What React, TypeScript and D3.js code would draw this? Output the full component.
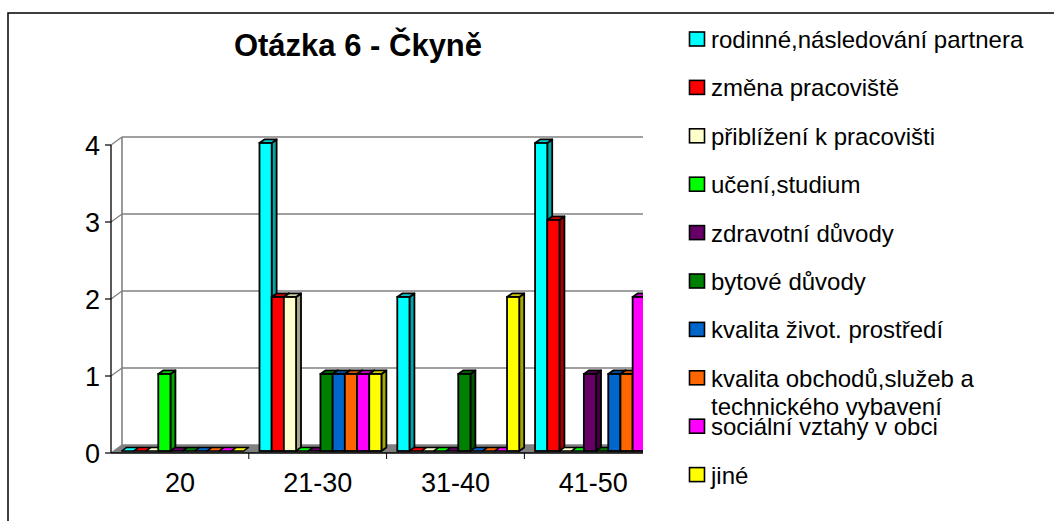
import React from "react";
import * as d3 from "d3";

const categories = ["20", "21-30", "31-40", "41-50"];
const seriesNames = [
  "rodinné,následování partnera",
  "změna pracoviště",
  "přiblížení k pracovišti",
  "učení,studium",
  "zdravotní důvody",
  "bytové důvody",
  "kvalita život. prostředí",
  "kvalita obchodů,služeb a technického vybavení",
  "sociální vztahy v obci",
  "jiné",
];
const legendLines = [
  ["rodinné,následování partnera"],
  ["změna pracoviště"],
  ["přiblížení k pracovišti"],
  ["učení,studium"],
  ["zdravotní důvody"],
  ["bytové důvody"],
  ["kvalita život. prostředí"],
  ["kvalita obchodů,služeb a", "technického vybavení"],
  ["sociální vztahy v obci"],
  ["jiné"],
];
const seriesColors = [
  "#00FFFF", "#FF0000", "#FFFFCC", "#00FF00", "#660066",
  "#008000", "#0066CC", "#FF6600", "#FF00FF", "#FFFF00",
];
// values[category][series]
const values = [
  [0, 0, 0, 1, 0, 0, 0, 0, 0, 0],
  [4, 2, 2, 0, 0, 1, 1, 1, 1, 1],
  [2, 0, 0, 0, 0, 1, 0, 0, 0, 2],
  [4, 3, 0, 0, 1, 0, 1, 1, 2, 0],
];
const yTicks = [0, 1, 2, 3, 4];
const title = "Otázka 6 - Čkyně";

export default function App() {
  const W = 1054, H = 521;
  const x0 = 111, catW = 137.8;
  const clipRight = 643;
  const x = d3.scaleBand<string>().domain(categories).range([x0, x0 + catW * 4]).padding(0);
  const xs = d3.scaleBand<number>().domain(d3.range(10)).range([0, catW]).paddingInner(0).paddingOuter(0.65);
  const y = d3.scaleLinear().domain([0, 4]).range([453, 145]);
  const D = [11, -8];
  const f0 = 0.25, f1 = 0.7;
  const font = "'Liberation Sans', Arial, Helvetica, sans-serif";

  const pt = (p: number[]) => p.map((v) => v.toFixed(2)).join(",");

  const bars: React.ReactNode[] = [];
  categories.forEach((c, ci) => {
    values[ci].forEach((v, si) => {
      const bx = (x(c) as number) + (xs(si) as number);
      const bw = xs.bandwidth();
      const y0 = y(0), y1 = y(v);
      const ox = D[0] * f0, oy = D[1] * f0;
      const dx = D[0] * (f1 - f0), dy = D[1] * (f1 - f0);
      const L = bx + ox, R = bx + bw + ox;
      const T = y1 + oy, B = y0 + oy;
      const col = seriesColors[si];
      const side = d3.color(col)!.darker(1.2).formatHex();
      const top = d3.color(col)!.darker(0.6).formatHex();
      const sw = 1.8;
      bars.push(
        <g key={`${ci}-${si}`}>
          {v > 0 && (
            <polygon
              points={[pt([R, T]), pt([R + dx, T + dy]), pt([R + dx, B + dy]), pt([R, B])].join(" ")}
              fill={side} stroke="#000" strokeWidth={sw} strokeLinejoin="round"
            />
          )}
          <polygon
            points={[pt([L, T]), pt([R, T]), pt([R + dx, T + dy]), pt([L + dx, T + dy])].join(" ")}
            fill={v > 0 ? top : col} stroke="#000" strokeWidth={v > 0 ? sw : 1.5} strokeLinejoin="round"
          />
          {v > 0 && (
            <rect x={L} y={T} width={bw} height={B - T} fill={col} stroke="#000" strokeWidth={sw} />
          )}
        </g>
      );
    });
  });

  const backX = x0 + D[0];
  const xEnd = x0 + catW * 4;

  return (
    <svg width={W} height={H} style={{ position: "absolute", left: 0, top: 0, background: "#fff" }}>
      <defs>
        <clipPath id="plotclip">
          <rect x={0} y={0} width={clipRight} height={H} />
        </clipPath>
      </defs>
      <rect x={8} y={13} width={W + 20} height={H + 20} fill="#fff" stroke="#000" strokeWidth={1.5} />
      <text x={358} y={56} textAnchor="middle" fontFamily={font} fontWeight="bold" fontSize={31}>
        {title}
      </text>
      <g clipPath="url(#plotclip)">
        {/* floor */}
        <polygon
          points={[pt([x0, y(0)]), pt([backX, y(0) + D[1]]), pt([xEnd + D[0], y(0) + D[1]]), pt([xEnd, y(0)])].join(" ")}
          fill="#808080"
        />
        {/* back wall gridlines */}
        {yTicks.map((t) => (
          <g key={t}>
            <line x1={backX} x2={xEnd + D[0]} y1={y(t) + D[1]} y2={y(t) + D[1]} stroke="#808080" strokeWidth={1.6} />
            <line x1={x0} x2={backX} y1={y(t)} y2={y(t) + D[1]} stroke="#808080" strokeWidth={1.3} />
          </g>
        ))}
        <line x1={backX} x2={backX} y1={y(4) + D[1]} y2={y(0) + D[1]} stroke="#808080" strokeWidth={1.6} />
        {bars}
        {/* x axis */}
        <line x1={x0} x2={xEnd} y1={y(0)} y2={y(0)} stroke="#000" strokeWidth={1.3} />
        {categories.slice(1).map((c) => (
          <line key={c} x1={x(c)} x2={x(c)} y1={y(0)} y2={y(0) + 6} stroke="#000" strokeWidth={1} />
        ))}
      </g>
      {/* y axis */}
      <line x1={x0} x2={x0} y1={y(4)} y2={y(0)} stroke="#000" strokeWidth={1.3} />
      {yTicks.map((t) => (
        <g key={t}>
          <line x1={x0 - 6} x2={x0} y1={y(t)} y2={y(t)} stroke="#000" strokeWidth={1.2} />
          <text x={100} y={y(t) + 10} textAnchor="end" fontFamily={font} fontSize={27}>
            {t}
          </text>
        </g>
      ))}
      {categories.map((c) => (
        <text key={c} x={(x(c) as number) + catW / 2} y={491.5} textAnchor="middle" fontFamily={font} fontSize={27}>
          {c}
        </text>
      ))}
      {/* legend */}
      {legendLines.map((lines, i) => {
        const top = 32 + i * 48.4;
        return (
          <g key={i}>
            <rect x={689.5} y={top} width={15} height={14} fill={seriesColors[i]} stroke="#000" strokeWidth={1.6} />
            {lines.map((ln, li) => (
              <text key={li} x={711} y={top + 16 + li * 28} fontFamily={font} fontSize={24}>
                {ln}
              </text>
            ))}
          </g>
        );
      })}
    </svg>
  );
}
